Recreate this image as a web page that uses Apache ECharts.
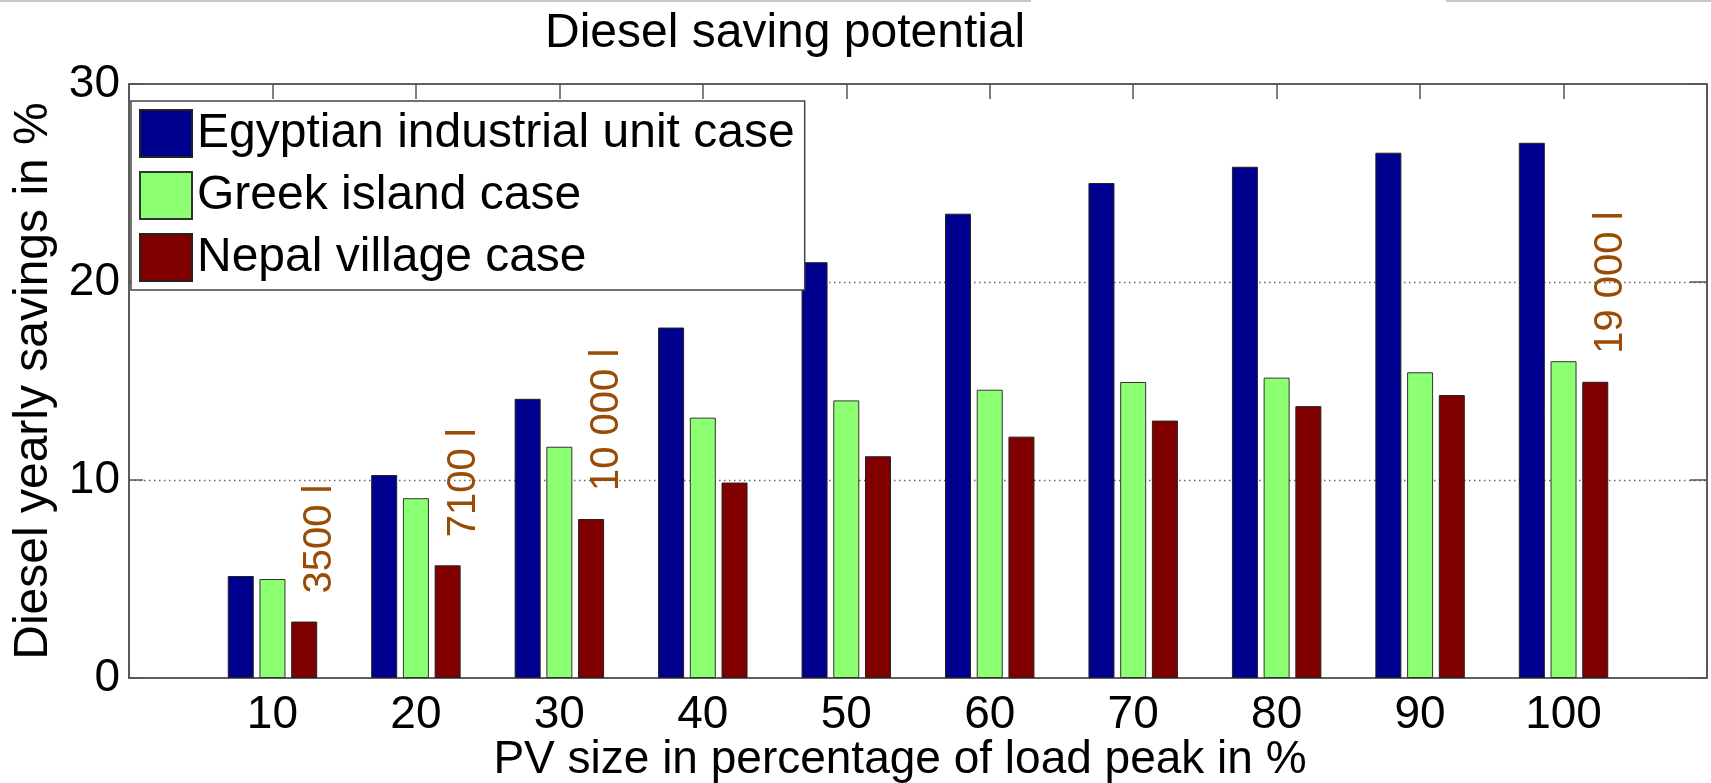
<!DOCTYPE html>
<html>
<head>
<meta charset="utf-8">
<script src="https://cdn.jsdelivr.net/npm/echarts@6/dist/echarts.min.js"></script>
<style>
html,body{margin:0;padding:0;background:#fff;}
#chart{width:1711px;height:783px;}
</style>
</head>
<body>
<div id="chart"></div>
<script>
// ---- data ----
const pvSizes = [10, 20, 30, 40, 50, 60, 70, 80, 90, 100];
const xTickLabels = ['10', '20', '30', '40', '50', '60', '70', '80', '90', '100'];
const seriesNames = ['Egyptian industrial unit case', 'Greek island case', 'Nepal village case'];
const egyptSavings = [5.15, 10.25, 14.1, 17.7, 21.0, 23.45, 25.0, 25.82, 26.53, 27.03];
const greekSavings = [5.0, 9.08, 11.68, 13.15, 14.02, 14.56, 14.95, 15.17, 15.44, 16.0];
const nepalSavings = [2.85, 5.69, 8.03, 9.87, 11.2, 12.19, 13.0, 13.73, 14.29, 14.96];
const nepalLitres = ['3500 l', '7100 l', '10 000 l', null, null, null, null, null, null, '19 000 l'];
const yTicks = [0, 10, 20, 30];

const FONT = "'Liberation Sans', Arial, sans-serif";
const colors = ['#00008F', '#8CFF72', '#800000'];

function pairs(vals) { return pvSizes.map((x, i) => [x, vals[i]]); }

const nepalData = pvSizes.map((x, i) => {
  const item = { value: [x, nepalSavings[i]] };
  if (nepalLitres[i]) {
    item.label = {
      show: true,
      formatter: nepalLitres[i],
      position: 'top',
      distance: 28,
      rotate: 90,
      align: 'left',
      verticalAlign: 'middle',
      offset: [0, 16],
      fontSize: 40,
      fontFamily: FONT,
      color: '#994C05'
    };
  }
  return item;
});

const chart = echarts.init(document.getElementById('chart'), null, { renderer: 'canvas' });

const barCommon = {
  type: 'bar',
  barWidth: 26,
  barGap: '22%',
  emphasis: { disabled: true },
  animation: false
};

const frameLine = { show: true, onZero: false, lineStyle: { color: '#555', width: 1.6 } };
const tickStyle = { color: '#555', width: 1.5 };

chart.setOption({
  animation: false,
  backgroundColor: '#fff',
  title: {
    text: 'Diesel saving potential',
    left: 540,
    top: 5,
    textStyle: { fontFamily: FONT, fontSize: 48, fontWeight: 'normal', color: '#000' }
  },
  legend: {
    orient: 'vertical',
    left: 131,
    top: 101,
    itemWidth: 52,
    itemHeight: 47,
    itemGap: 13,
    padding: [8, 10, 8, 8],
    backgroundColor: '#fff',
    borderColor: '#444',
    borderWidth: 1.5,
    borderRadius: 0,
    icon: 'rect',
    selectedMode: false,
    textStyle: { fontFamily: FONT, fontSize: 48, lineHeight: 47, color: '#000' },
    data: seriesNames
  },
  grid: {
    left: 129, top: 84, right: 4, bottom: 105,
    show: true, borderColor: '#555', borderWidth: 1.6,
    containLabel: false, outerBoundsMode: 'none'
  },
  xAxis: [{
    type: 'value', min: 0, max: 110, interval: 10, position: 'bottom',
    axisLine: frameLine,
    axisTick: { show: true, inside: true, length: 15, lineStyle: tickStyle },
    splitLine: { show: false },
    axisLabel: {
      margin: 14, fontSize: 46, fontFamily: FONT, color: '#000',
      formatter: v => { const i = pvSizes.indexOf(v); return i >= 0 ? xTickLabels[i] : ''; }
    },
    name: 'PV size in percentage of load peak in %',
    nameLocation: 'middle', nameGap: 59, nameMoveOverlap: false,
    nameTextStyle: { fontFamily: FONT, fontSize: 46, color: '#000', padding: [0, 36, 0, 0] }
  }, {
    type: 'value', min: 0, max: 110, interval: 10, position: 'top',
    axisLine: frameLine,
    axisTick: { show: true, inside: true, length: 15, lineStyle: tickStyle },
    splitLine: { show: false },
    axisLabel: { show: false }
  }],
  yAxis: [{
    type: 'value', min: yTicks[0], max: yTicks[yTicks.length - 1], interval: 10, position: 'left',
    axisLine: frameLine,
    axisTick: { show: true, inside: true, length: 14, lineStyle: tickStyle },
    splitLine: { show: true, showMinLine: false, showMaxLine: false, lineStyle: { color: '#666', type: [1.5, 3.5], width: 1.3 } },
    axisLabel: { margin: 9, fontSize: 46, fontFamily: FONT, color: '#000' },
    name: 'Diesel yearly savings in %',
    nameLocation: 'middle', nameGap: 63,
    nameTextStyle: { fontFamily: FONT, fontSize: 48, color: '#000' }
  }, {
    type: 'value', min: yTicks[0], max: yTicks[yTicks.length - 1], interval: 10, position: 'right',
    axisLine: frameLine,
    axisTick: { show: true, inside: true, length: 17, lineStyle: tickStyle },
    splitLine: { show: false },
    axisLabel: { show: false }
  }],
  graphic: [
    { type: 'line', shape: { x1: 0, y1: 1, x2: 1031, y2: 1 }, style: { stroke: '#c8c8c8', lineWidth: 2 } },
    { type: 'line', shape: { x1: 1446, y1: 1, x2: 1711, y2: 1 }, style: { stroke: '#c8c8c8', lineWidth: 2 } }
  ],
  series: [
    Object.assign({}, barCommon, { name: seriesNames[0], data: pairs(egyptSavings), itemStyle: { color: colors[0], borderColor: '#222', borderWidth: 1 } }),
    Object.assign({}, barCommon, { name: seriesNames[1], data: pairs(greekSavings), itemStyle: { color: colors[1], borderColor: '#333', borderWidth: 1 } }),
    Object.assign({}, barCommon, { name: seriesNames[2], data: nepalData, itemStyle: { color: colors[2], borderColor: '#222', borderWidth: 1 } })
  ]
});
</script>
</body>
</html>
